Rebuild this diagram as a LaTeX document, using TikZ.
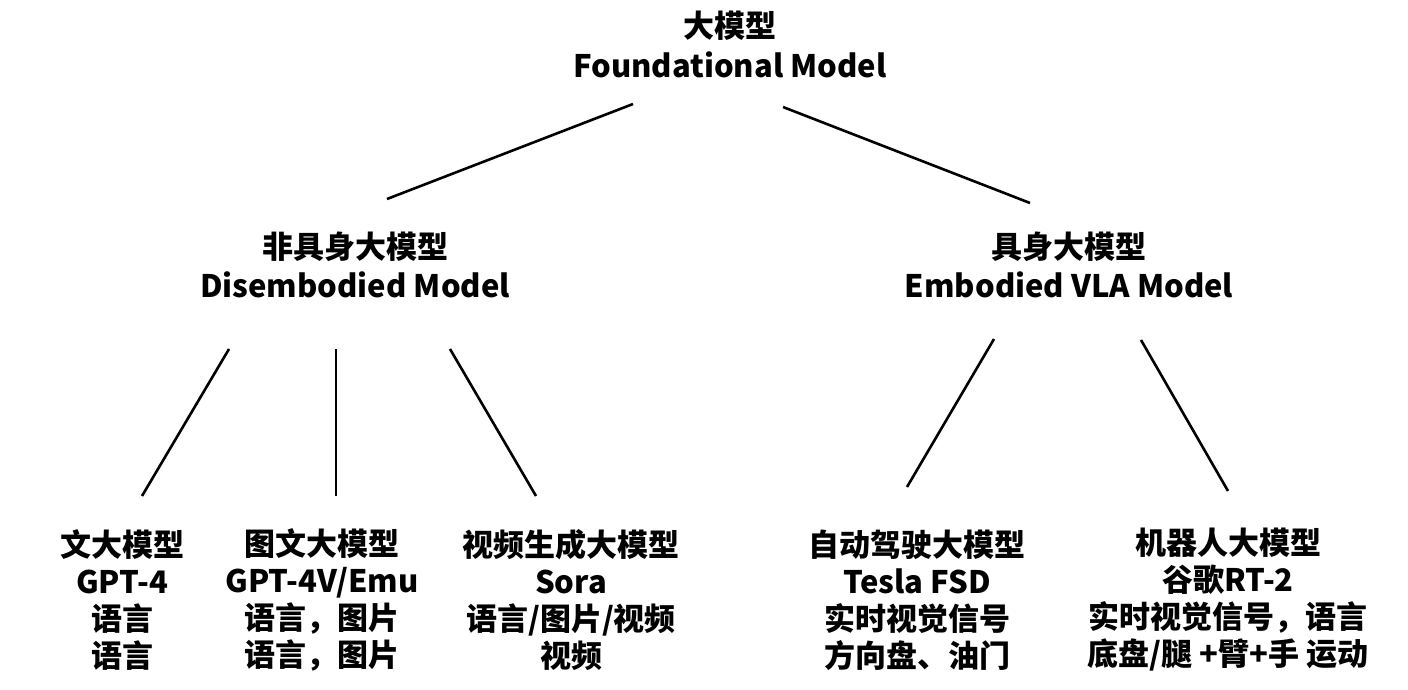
\documentclass[tikz,border=0pt]{standalone}
\usepackage{fontspec}
\setmainfont{Noto Sans CJK SC}
\begin{document}
\begin{tikzpicture}[x=1pt,y=-1pt,
  lbl/.style={align=center,inner sep=0pt,font=\fontsize{31}{39}\selectfont\bfseries},
  leaf/.style={align=center,inner sep=0pt,font=\fontsize{31}{37}\selectfont\bfseries},
  conn/.style={line width=2.6pt,black}]
\useasboundingbox (0,0) rectangle (1408,690);
\node[lbl,font=\fontsize{31}{40}\selectfont\bfseries] (root) at (730,44) {大模型\\Foundational Model};
\node[lbl] (dis) at (355,265) {非具身大模型\\Disembodied Model};
\node[lbl] (emb) at (1069,265) {具身大模型\\Embodied VLA Model};
\node[leaf] (t1) at (122,600) {文大模型\\GPT-4\\语言\\语言};
\node[leaf] (t2) at (322,600) {图文大模型\\GPT-4V/Emu\\语言，图片\\语言，图片};
\node[leaf] (t3) at (571,600) {视频生成大模型\\Sora\\语言/图片/视频\\视频};
\node[leaf] (t4) at (917,600) {自动驾驶大模型\\Tesla FSD\\实时视觉信号\\方向盘、油门};
\node[leaf] (t5) at (1228,600) {机器人大模型\\谷歌RT-2\\实时视觉信号，语言\\底盘/腿 +臂+手 运动};
% connector end points
\coordinate (r1) at (633,104); \coordinate (d0) at (387,199);
\coordinate (r2) at (783,107); \coordinate (e0) at (1030,203);
\coordinate (d1) at (229,349); \coordinate (a1) at (142,496);
\coordinate (d2) at (336,349); \coordinate (a2) at (336,496);
\coordinate (d3) at (450,349); \coordinate (a3) at (536,496);
\coordinate (e1) at (994,339); \coordinate (a4) at (907,487);
\coordinate (e2) at (1141,340); \coordinate (a5) at (1228,491);
\draw[conn] (r1) -- (d0);
\draw[conn] (r2) -- (e0);
\draw[conn] (d1) -- (a1);
\draw[conn] (d2) -- (a2);
\draw[conn] (d3) -- (a3);
\draw[conn] (e1) -- (a4);
\draw[conn] (e2) -- (a5);
\end{tikzpicture}
\end{document}
